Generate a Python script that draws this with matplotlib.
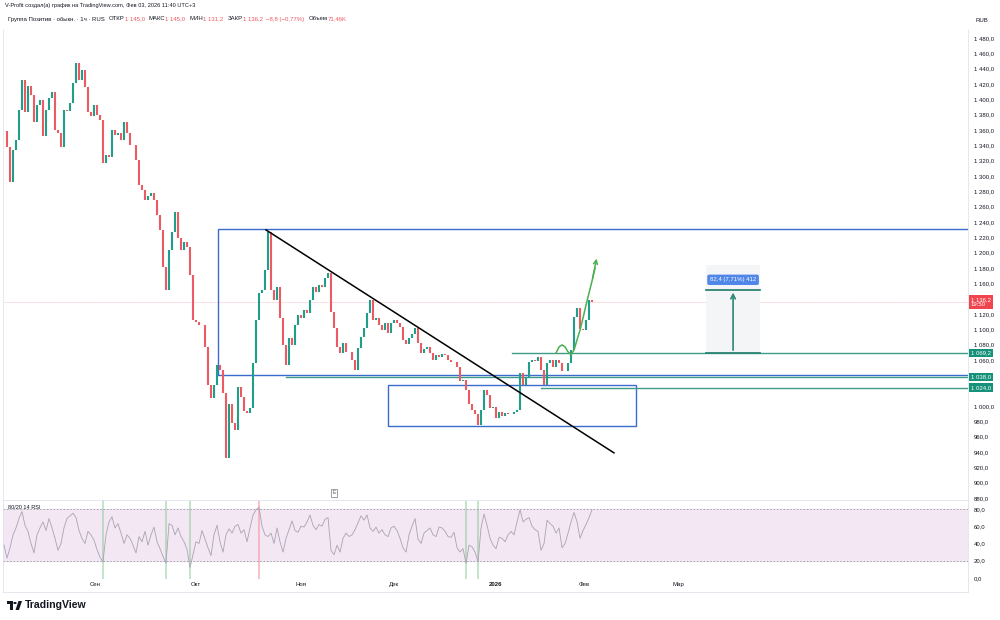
import matplotlib
matplotlib.use("Agg")
import numpy as np
import matplotlib.pyplot as plt
from matplotlib.patches import Rectangle, Polygon, Circle
from matplotlib.lines import Line2D

plt.rcParams['font.family'] = ['Liberation Sans', 'DejaVu Sans']

# hourly closes, sampled along the chart (RUB)
closes = [
    1358.7, 1337.9, 1292.3, 1334.0, 1347.0, 1386.1, 1425.2, 1383.5, 1418.0, 1405.7,
    1370.5, 1392.6, 1399.2, 1352.0, 1386.1, 1402.0, 1410.0, 1360.1, 1356.1, 1338.0,
    1386.1, 1385.0, 1395.0, 1421.3, 1447.0, 1425.2, 1438.0, 1416.1, 1383.0, 1378.0,
    1392.0, 1380.0, 1373.1, 1317.0, 1327.0, 1325.0, 1360.1, 1353.5, 1356.1, 1347.0,
    1370.0, 1356.0, 1341.0, 1341.0, 1321.0, 1288.0, 1282.0, 1269.0, 1274.0, 1278.0,
    1269.0, 1249.0, 1230.0, 1181.0, 1151.0, 1204.0, 1227.0, 1253.0, 1219.0, 1204.0,
    1214.0, 1207.5, 1171.0, 1112.0, 1110.0, 1106.0, 1106.0, 1077.0, 1028.0, 1011.0,
    1028.0, 1054.0, 1047.0, 1017.0, 932.0, 1002.0, 978.0, 969.0, 1025.0, 1012.0,
    994.0, 991.0, 998.0, 1056.0, 1112.0, 1147.5, 1151.0, 1177.5, 1227.0, 1151.0,
    1138.0, 1155.0, 1115.0, 1080.0, 1054.0, 1089.0, 1080.0, 1106.0, 1119.0, 1115.0,
    1125.0, 1121.0, 1138.0, 1155.0, 1149.0, 1158.0, 1155.0, 1167.0, 1174.0, 1123.0,
    1102.0, 1077.0, 1069.0, 1082.0, 1070.0, 1070.0, 1060.0, 1047.0, 1076.0, 1090.0,
    1102.0, 1121.0, 1138.0, 1112.0, 1115.0, 1106.0, 1099.0, 1108.0, 1095.0, 1108.0,
    1112.0, 1108.0, 1103.0, 1086.0, 1081.0, 1089.0, 1094.0, 1102.0, 1082.0, 1069.0,
    1074.0, 1077.0, 1069.0, 1060.0, 1067.0, 1064.0, 1068.0, 1067.0, 1060.0, 1058.0,
    1058.0, 1051.0, 1032.0, 1034.0, 1021.0, 1003.0, 995.0, 990.0, 975.0, 995.0,
    1021.0, 1014.0, 997.0, 999.0, 984.0, 992.0, 987.0, 991.0, 990.0, 990.0,
    992.0, 995.0, 1043.0, 1027.0, 1038.0, 1058.0, 1060.0, 1059.0, 1064.0, 1047.0,
    1027.0, 1056.0, 1060.0, 1051.0, 1060.0, 1056.0, 1045.0, 1045.0, 1056.0, 1073.0,
    1116.0, 1128.0, 1100.0, 1099.0, 1112.0, 1138.0, 1136.2,
]

rsi = [
    38, 23, 35, 50, 58, 69, 77, 61, 54, 40,
    29, 50, 58, 65, 55, 69, 58, 46, 32, 40,
    58, 69, 72, 75, 70, 55, 46, 40, 54, 50,
    44, 33, 24, 19, 50, 65, 71, 58, 63, 52,
    40, 50, 46, 38, 29, 48, 42, 54, 38, 50,
    59, 42, 34, 25, 17, 63, 61, 50, 58, 48,
    42, 33, 12, 27, 42, 40, 55, 45, 35, 26,
    50, 61, 42, 30, 50, 57, 52, 60, 62, 52,
    56, 42, 58, 73, 79, 82, 60, 50, 48, 52,
    40, 58, 42, 30, 46, 56, 66, 55, 53, 60,
    59, 65, 73, 61, 56, 62, 60, 68, 70, 32,
    27, 38, 30, 46, 52, 48, 50, 56, 64, 72,
    67, 73, 58, 54, 59, 52, 56, 50, 48, 58,
    60, 55, 46, 35, 30, 50, 60, 69, 45, 40,
    52, 55, 58, 50, 48, 59, 58, 54, 48, 47,
    53, 35, 30, 34, 17, 38, 36, 30, 19, 58,
    74, 61, 46, 38, 34, 47, 46, 42, 50, 54,
    50, 65, 79, 65, 68, 70, 60, 56, 54, 32,
    40, 67, 63, 60, 52, 58, 35, 40, 52, 65,
    76, 65, 46, 55, 62, 70, 79,
]

month_labels = ["Сен", "Окт", "Ноя", "Дек", "2026", "Фев", "Мар"]
month_pos = [30.3, 64, 99, 130, 164, 193.3, 224.7]

# drawings (bar index, price)
big_box = [71.3, 1041.0, 1231.0]            # left, bottom, top (extends right)
small_box = [128.0, 210.7, 974.0, 1027.6]   # left, right, bottom, top
trend_x = [87.3, 203.3]
trend_y = [1229.7, 938.9]
level_start = [94.0, 169.3, 179.0]
level_price = [1038.0, 1069.2, 1024.0]
proj_x = [184, 185, 186, 187, 188, 189, 190, 191, 192, 193, 194, 195, 196, 197, 197.7]
proj_y = [1069.3, 1077.1, 1079.7, 1077.1, 1070.6, 1066.7, 1073.2, 1086.3, 1099.3,
          1114.9, 1131.9, 1147.5, 1163.2, 1180.1, 1195.8]
measure_x = [234.0, 252.0]
measure_base = 1069.2
measure_move = 82.4
last_price = 1136.2

UP, DOWN = "#1f9e8a", "#ec5a63"
TEAL_LINE, TEAL_LBL = "#3d9b88", "#16917a"
BLUE = "#3c6bd0"
GRID = "#e0e3eb"
TXT = "#131722"
FS = 4.3

W, H = 1000, 620
def fx(p):
    return p / W
def fy(p):
    return 1 - p / H

def price_fmt(v):
    return f"{v:,.1f}".replace(",", " ").replace(".", ",")

fig = plt.figure(figsize=(10, 6.2), dpi=100)
ax = fig.add_axes([fx(3), fy(500), fx(968) - fx(3), fy(30) - fy(500)])
rax = fig.add_axes([fx(3), fy(579), fx(968) - fx(3), fy(500) - fy(579)], sharex=ax)

x = np.arange(len(closes))
c = np.array(closes)
o = np.r_[c[0], c[:-1]]
cols = np.where(c >= o, UP, DOWN)

# price pane
ax.axhline(last_price, color="#f6b9bd", lw=0.6, ls=(0, (1, 1)), zorder=1)
ax.add_patch(Rectangle((measure_x[0], measure_base), measure_x[1] - measure_x[0], 115,
                       fc="#f4f5f7", ec="none", zorder=1))
ax.vlines(x, np.minimum(o, c), np.maximum(o, c), colors=cols, lw=1.5, zorder=3)

ax.add_patch(Rectangle((big_box[0], big_box[1]), 400, big_box[2] - big_box[1],
                       fill=False, ec=BLUE, lw=1.0, zorder=2))
ax.add_patch(Rectangle((small_box[0], small_box[2]), small_box[1] - small_box[0],
                       small_box[3] - small_box[2], fill=False, ec=BLUE, lw=1.0, zorder=2))
for s, p in zip(level_start, level_price):
    ax.plot([s, 400], [p, p], color=TEAL_LINE, lw=1.0, zorder=2)
ax.plot(trend_x, trend_y, color="black", lw=1.1, zorder=4)

ax.plot(proj_x[:-1], proj_y[:-1], color="#4caf50", lw=1.1, zorder=4)
ax.annotate("", xy=(proj_x[-1], proj_y[-1]), xytext=(proj_x[-3], proj_y[-3]),
            arrowprops=dict(arrowstyle="->", color="#4caf50", lw=1.1, mutation_scale=7), zorder=4)

top = measure_base + measure_move
for p in (measure_base, top):
    ax.plot(measure_x, [p, p], color="#2f8576", lw=1.3, zorder=4)
mid = sum(measure_x) / 2
ax.annotate("", xy=(mid, top), xytext=(mid, measure_base),
            arrowprops=dict(arrowstyle="->", color="#2f8576", lw=1.2, mutation_scale=8), zorder=4)
ax.text(mid, top + 13, "82,4 (7,71%) 412", ha="center", va="center", fontsize=FS, color="white",
        bbox=dict(boxstyle="round,pad=0.45,rounding_size=0.3", fc="#4f86e8", ec="none"), zorder=5)

ax.text(110, 0.015, "E", transform=ax.get_xaxis_transform(), fontsize=3.6, color="#555",
        ha="center", va="center",
        bbox=dict(boxstyle="square,pad=0.35", fc="white", ec="#777", lw=0.5), zorder=5)

ax.set_xlim(-0.33, 321.3)
ax.set_ylim(877.4, 1490.4)
ticks = list(range(880, 1481, 20))
hidden = (1140, 1040, 1020)   # covered by the price labels
ax.set_yticks(ticks)
ax.set_yticklabels(["" if v in hidden else price_fmt(v) for v in ticks])
ax.yaxis.tick_right()
ax.tick_params(axis="y", length=0, labelsize=FS, colors=TXT, pad=4)
ax.tick_params(axis="x", length=0, labelbottom=False)
for sp in ax.spines.values():
    sp.set_color(GRID)
    sp.set_linewidth(0.6)
ax.spines["top"].set_visible(False)

tr = ax.get_yaxis_transform()
lbl = dict(transform=tr, fontsize=FS, color="white", va="center", ha="left", clip_on=False, zorder=6)
for p in level_price:
    ax.text(1.003, p, price_fmt(p), bbox=dict(boxstyle="square,pad=0.3", fc=TEAL_LBL, ec="none"), **lbl)
ax.annotate("1 136,2\n19:50", xy=(1.003, last_price), xycoords=tr, xytext=(0, 3.2),
            textcoords="offset points", fontsize=FS, color="white", va="top", ha="left",
            linespacing=1.0, annotation_clip=False, zorder=6,
            bbox=dict(boxstyle="square,pad=0.3", fc="#f0454f", ec="none"))

# RSI pane
rax.axhspan(20, 80, color="#f2e7f3", zorder=0)
for k, v in enumerate(rsi):
    if v < 20:
        rax.axvspan(k - 0.4, k + 0.4, color="#7fc98a", alpha=0.45, lw=0, zorder=1)
    elif v > 80:
        rax.axvspan(k - 0.4, k + 0.4, color="#f59aa1", alpha=0.6, lw=0, zorder=1)
for lv in (80, 20):
    rax.axhline(lv, color="#9a9ca5", lw=0.6, ls=(0, (2, 2)), zorder=2)
rax.plot(x, rsi, color="#aaa3b3", lw=0.6, zorder=3)
rax.text(0.005, 79, "80/20 14 RSI", transform=rax.get_yaxis_transform(), fontsize=FS - 0.3,
         color=TXT, va="bottom", ha="left")
rax.set_ylim(-1.2, 90.4)
rax.set_yticks([0, 20, 40, 60, 80])
rax.set_yticklabels([f"{v:.1f}".replace(".", ",") for v in [0, 20, 40, 60, 80]])
rax.yaxis.tick_right()
rax.tick_params(axis="y", length=0, labelsize=FS, colors=TXT, pad=4)
rax.set_xticks(month_pos)
rax.set_xticklabels(month_labels)
rax.tick_params(axis="x", length=0, labelsize=FS, colors=TXT, pad=2.2)
for t in rax.get_xticklabels():
    if t.get_text() == "2026":
        t.set_fontweight("bold")
for sp in rax.spines.values():
    sp.set_color(GRID)
    sp.set_linewidth(0.6)
rax.spines["bottom"].set_visible(False)
fig.add_artist(Line2D([fx(3), fx(968)], [fy(592), fy(592)], color=GRID, lw=0.6))
fig.add_artist(Line2D([fx(3), fx(3)], [fy(592), fy(579)], color=GRID, lw=0.6))
fig.add_artist(Line2D([fx(968), fx(968)], [fy(592), fy(579)], color=GRID, lw=0.6))

# header
fig.text(fx(5), fy(6), "V-Profit создал(а) график на TradingView.com, Фев 03, 2026 11:40 UTC+3",
         fontsize=4.1, color=TXT, va="center")
parts = [("Группа Позитив · обыкн. · 1ч · RUS", TXT, 0), ("ОТКР", TXT, 3), ("1 145,0", DOWN, 0),
         ("МАКС", TXT, 3), ("1 145,0", DOWN, 0), ("МИН", TXT, 3), ("1 131,2", DOWN, 0),
         ("ЗАКР", TXT, 3), ("1 136,2", DOWN, 0), ("−8,8 (−0,77%)", DOWN, 2.5),
         ("Объем", TXT, 3), ("71,46K", DOWN, 0)]
t = fig.text(fx(8), fy(19), parts[0][0], fontsize=FS, color=parts[0][1], va="center")
for s, col, gap in parts[1:]:
    t = ax.annotate(s, xy=(1, 0), xycoords=t, xytext=(gap, 0), textcoords="offset points",
                    fontsize=FS, color=col, va="bottom", annotation_clip=False)
fig.text(fx(975), fy(20), "RUB", fontsize=FS, color=TXT, va="center")

# TradingView logo
k = dict(transform=fig.transFigure, fc=TXT, ec="none")
fig.patches.append(Rectangle((fx(7), fy(604)), fx(6), fy(601) - fy(604), **k))
fig.patches.append(Rectangle((fx(10), fy(610)), fx(3), fy(601) - fy(610), **k))
fig.patches.append(Polygon([(fx(15.5), fy(610)), (fx(18.5), fy(601)), (fx(22), fy(601)),
                            (fx(19), fy(610))], **k))
fig.patches.append(Circle((fx(15), fy(603)), 0.0017, **k))
fig.text(fx(25), fy(605.5), "TradingView", fontsize=7.6, fontweight="bold", color=TXT, va="center")

fig.savefig("out.png", dpi=100, facecolor="white")
